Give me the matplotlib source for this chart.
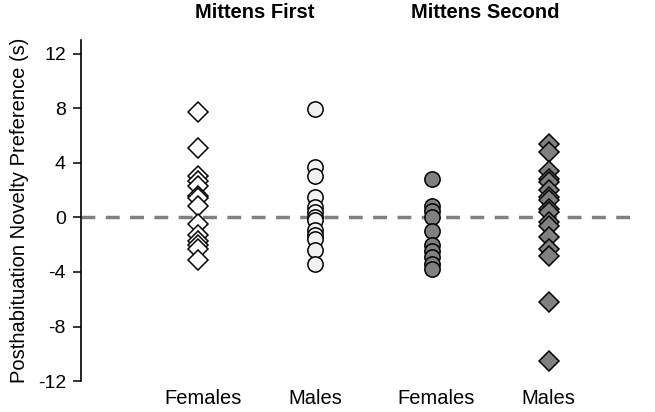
import numpy as np
import matplotlib.pyplot as plt

plt.rcParams['font.family'] = ['Liberation Sans', 'DejaVu Sans']

# (seconds)
first_females = [7.7, 5.1, 3.0, 2.7, 2.3, 1.6, 1.4, 0.8, -0.5, -1.3, -1.7, -2.0, -2.3, -3.1]
first_males = [7.95, 3.7, 3.0, 1.5, 0.75, 0.4, 0.0, -0.2, -0.95, -1.3, -1.55, -2.4, -3.4]
second_females = [2.8, 0.85, 0.5, 0.0, -1.0, -2.05, -2.5, -2.9, -3.4, -3.75]
second_males = [5.4, 4.8, 3.4, 2.8, 2.6, 2.0, 1.5, 1.25, 0.6, 0.4, -0.35, -0.6, -1.45,
                -2.3, -2.8, -6.2, -10.5]

groups = ["Females", "Males", "Females", "Males"]
conditions = ["Mittens First", "Mittens Second"]
yticks = [-12, -8, -4, 0, 4, 8, 12]

fig = plt.figure(figsize=(6.55, 4.12), dpi=100)
ax = fig.add_axes([0.124, 0.075, 0.853, 0.828])

series = [
    (first_females, 'D', 'white', 10),
    (first_males, 'o', '#f2f2f2', 11),
    (second_females, 'o', '#808080', 11),
    (second_males, 'D', '#808080', 10),
]
for i, (vals, mk, fc, ms) in enumerate(series):
    ax.plot(np.full(len(vals), i + 1), vals, linestyle='none', marker=mk,
            markersize=ms, markerfacecolor=fc, markeredgecolor='black',
            markeredgewidth=1.1)

ax.axhline(0, color='#808080', linewidth=2.5, dashes=(4, 3), zorder=0)

ax.set_xlim(0, 4.78)
ax.set_ylim(-12, 13)
ax.set_yticks(yticks)
ax.set_yticklabels([str(t) for t in yticks], fontsize=14)
ax.set_xticks([1.04, 2.0, 3.04, 4.0])
ax.set_xticklabels(groups, fontsize=14.5)
ax.tick_params(axis='x', length=0, pad=6)
ax.tick_params(axis='y', direction='out', length=6, width=1.1, pad=5)
ax.set_ylabel("Posthabituation Novelty Preference (s)", fontsize=14.5, labelpad=6)

for side in ['top', 'right', 'bottom']:
    ax.spines[side].set_visible(False)
ax.spines['left'].set_linewidth(1.2)

fig.text(255 / 655, 1 - 12 / 412, conditions[0], ha='center', va='center',
         fontsize=14.5, fontweight='bold')
fig.text(485 / 655, 1 - 12 / 412, conditions[1], ha='center', va='center',
         fontsize=14.5, fontweight='bold')

fig.savefig("out.png", dpi=100)
plt.close(fig)
